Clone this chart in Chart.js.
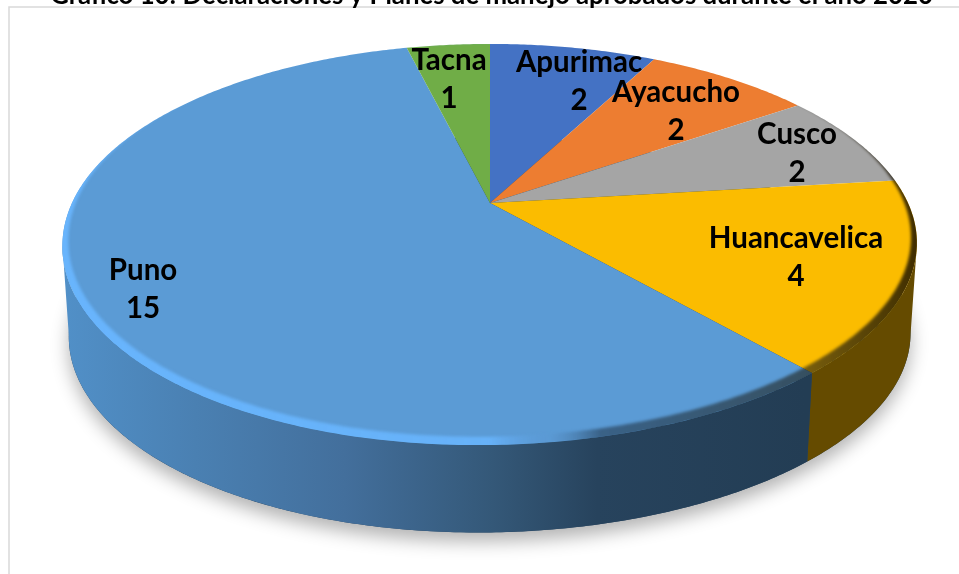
<!DOCTYPE html>
<html>
<head>
<meta charset="utf-8">
<script src="https://cdn.jsdelivr.net/npm/chart.js@4"></script>
<style>html,body{margin:0;padding:0;background:#fff}canvas{display:block}</style>
</head>
<body>
<canvas id="c" width="959" height="574"></canvas>
<script>
const titleText = 'Gráfico 10: Declaraciones y Planes de manejo aprobados durante el año 2020';
const categories = ['Apurimac', 'Ayacucho', 'Cusco', 'Huancavelica', 'Puno', 'Tacna'];
const values = [2, 2, 2, 4, 15, 1];
const sliceColors = ['#4472C4', '#ED7D31', '#A5A5A5', '#FBBC00', '#5B9BD5', '#70AD47'];
const labelCentres = [[579, 62], [676, 92], [797, 134], [796, 238], [143, 270], [449, 60]];

const FONT = 'Lato, Carlito, sans-serif';
const P = 0.207, KX = 418 / 203, KY = 192 / 203, LEAN = 0.000208;
const WALL_MIN = Math.asin(P), WALL_MAX = Math.PI - WALL_MIN;

function project(arc, theta, scale, dy) {
  const u = Math.cos(theta), v = Math.sin(theta), d = 1 - P * v;
  const yy = KY * arc.outerRadius * scale * v / d;
  let xx = KX * arc.outerRadius * scale * u / d;
  if (yy > 0) xx -= LEAN * yy * yy;
  return [arc.x + xx, arc.y + dy + yy];
}
function rimPath(ctx, arc, a, b, scale, dy, move) {
  const n = Math.max(2, Math.ceil(Math.abs(b - a) / 0.01));
  for (let i = 0; i <= n; i++) {
    const p = project(arc, a + (b - a) * i / n, scale, dy);
    if (i === 0 && move) ctx.moveTo(p[0], p[1]); else ctx.lineTo(p[0], p[1]);
  }
}
function wallFill(ctx, index) {
  if (index === 4) {
    const g = ctx.createLinearGradient(62, 0, 805, 0);
    g.addColorStop(0, '#5190c8');
    g.addColorStop(0.18, '#4a80b2');
    g.addColorStop(0.38, '#436f9c');
    g.addColorStop(0.58, '#345878');
    g.addColorStop(0.72, '#27435d');
    g.addColorStop(1, '#233d54');
    return g;
  }
  return index === 3 ? '#654B00' : sliceColors[index];
}

const pie3d = {
  id: 'pie3d',
  beforeDatasetsDraw(chart) {
    const ctx = chart.ctx, arcs = chart.getDatasetMeta(0).data;
    const first = arcs[0], TAU = Math.PI * 2;
    const BOTTOM_SCALE = 0.985, DEPTH = 91;

    // Cast shadow
    ctx.save();
    ctx.shadowColor = 'rgba(0,0,0,0.3)';
    ctx.shadowBlur = 18;
    ctx.shadowOffsetY = 9;
    ctx.fillStyle = '#27435d';
    ctx.beginPath();
    rimPath(ctx, first, 0, TAU, BOTTOM_SCALE, DEPTH, true);
    ctx.closePath();
    ctx.fill();
    ctx.restore();

    // Side walls (front-facing part of each slice only)
    arcs.forEach((arc, i) => {
      const a = Math.max(arc.startAngle, WALL_MIN), b = Math.min(arc.endAngle, WALL_MAX);
      if (b <= a) return;
      ctx.beginPath();
      rimPath(ctx, arc, a, b, 1, 0, true);
      rimPath(ctx, arc, b, a, BOTTOM_SCALE, DEPTH, false);
      ctx.closePath();
      ctx.fillStyle = wallFill(ctx, i);
      ctx.fill();
    });

    // Top faces
    arcs.forEach((arc, i) => {
      ctx.beginPath();
      ctx.moveTo(arc.x, arc.y);
      rimPath(ctx, arc, arc.startAngle, arc.endAngle, 1, 0, false);
      ctx.closePath();
      ctx.fillStyle = sliceColors[i];
      ctx.fill();
    });

    // Bevel along the rim
    ctx.save();
    ctx.beginPath();
    rimPath(ctx, first, 0, TAU, 1, 0, true);
    ctx.closePath();
    ctx.clip();
    const g = ctx.createLinearGradient(62, 0, 917, 0);
    g.addColorStop(0, 'rgba(104,180,252,1)');
    g.addColorStop(0.5, 'rgba(104,180,252,0.9)');
    g.addColorStop(0.57, 'rgba(90,150,210,0.25)');
    g.addColorStop(0.63, 'rgba(30,50,70,0.55)');
    g.addColorStop(0.87, 'rgba(30,30,20,0.6)');
    g.addColorStop(1, 'rgba(30,20,0,0.85)');
    ctx.filter = 'blur(1.6px)';
    ctx.beginPath();
    rimPath(ctx, first, 0, TAU, 1.01, 0, true);
    ctx.closePath();
    rimPath(ctx, first, 0, TAU, 0.986, -5, true);
    ctx.closePath();
    ctx.fillStyle = g;
    ctx.fill('evenodd');
    ctx.restore();

    return false;
  },
  afterDraw(chart) {
    const ctx = chart.ctx;
    ctx.save();
    ctx.fillStyle = '#000';
    ctx.font = 'bold 29.5px ' + FONT;
    ctx.textAlign = 'center';
    ctx.textBaseline = 'middle';
    categories.forEach((name, i) => {
      const c = labelCentres[i];
      ctx.fillText(name, c[0], c[1]);
      ctx.fillText(String(values[i]), c[0], c[1] + 38);
    });
    // Title, cut off by the top of the picture as in the source
    ctx.font = 'bold 100px ' + FONT;
    const size = 100 * 883 / ctx.measureText(titleText).width;
    ctx.font = 'bold ' + size + 'px ' + FONT;
    ctx.textBaseline = 'alphabetic';
    ctx.fillText(titleText, 491.5, 4);
    ctx.restore();
  },
  beforeDraw(chart) {
    const ctx = chart.ctx;
    ctx.save();
    ctx.strokeStyle = '#d9d9d9';
    ctx.lineWidth = 1.5;
    ctx.beginPath();
    ctx.moveTo(9, 574);
    ctx.lineTo(9, 7);
    ctx.lineTo(959, 7);
    ctx.stroke();
    ctx.restore();
  }
};

new Chart(document.getElementById('c'), {
  type: 'pie',
  data: {
    labels: categories,
    datasets: [{ data: values, backgroundColor: sliceColors, borderWidth: 0 }]
  },
  plugins: [pie3d],
  options: {
    responsive: false,
    animation: false,
    layout: { padding: { left: 21, right: 0, top: 0, bottom: 168 } },
    plugins: {
      legend: { display: false },
      tooltip: { enabled: false },
      title: { display: false }
    }
  }
});
</script>
</body>
</html>
